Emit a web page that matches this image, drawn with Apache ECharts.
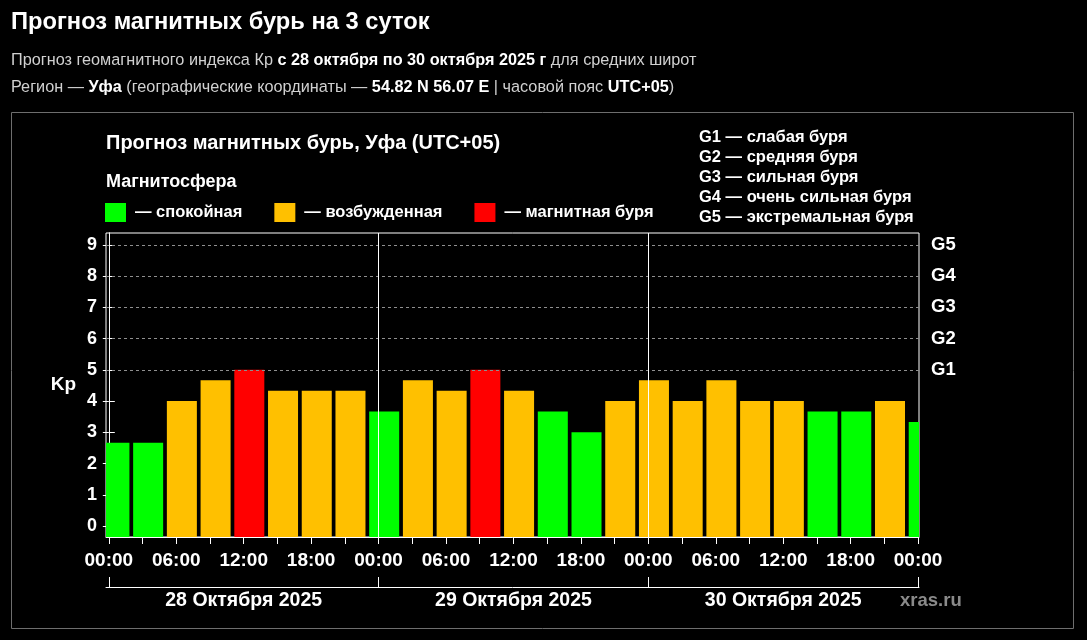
<!DOCTYPE html>
<html>
<head>
<meta charset="utf-8">
<script src="https://cdn.jsdelivr.net/npm/echarts@6/dist/echarts.min.js"></script>
<style>
html,body{margin:0;padding:0;background:#000;}
#chart{width:1087px;height:640px;}
</style>
</head>
<body>
<div id="chart"></div>
<script>
// ---- data ----
const barHours = [0.5, 3.5, 6.5, 9.5, 12.5, 15.5, 18.5, 21.5,
                  24.5, 27.5, 30.5, 33.5, 36.5, 39.5, 42.5, 45.5,
                  48.5, 51.5, 54.5, 57.5, 60.5, 63.5, 66.5, 69.5, 72.5];
const kpValues = [2.67, 2.67, 4.0, 4.67, 5.0, 4.33, 4.33, 4.33,
                  3.67, 4.67, 4.33, 5.0, 4.33, 3.67, 3.0, 4.0,
                  4.67, 4.0, 4.67, 4.0, 4.0, 3.67, 3.67, 4.0, 3.33];
const timeTickHours = [0, 6, 12, 18, 24, 30, 36, 42, 48, 54, 60, 66, 72];
const timeTickLabels = ['00:00', '06:00', '12:00', '18:00', '00:00', '06:00', '12:00', '18:00', '00:00', '06:00', '12:00', '18:00', '00:00'];
const minorTickHours = [0, 3, 6, 9, 12, 15, 18, 21, 24, 27, 30, 33, 36, 39, 42, 45, 48, 51, 54, 57, 60, 63, 66, 69, 72];
const dayBoundaryHours = [0, 24, 48, 72];
const dayLabelHours = [12, 36, 60];
const dayLabels = ['28 Октября 2025', '29 Октября 2025', '30 Октября 2025'];
const kpTicks = [0, 1, 2, 3, 4, 5, 6, 7, 8, 9];
const gLevels = [5, 6, 7, 8, 9];
const gLabels = ['G1', 'G2', 'G3', 'G4', 'G5'];
const gLegend = ['G1 — слабая буря', 'G2 — средняя буря', 'G3 — сильная буря', 'G4 — очень сильная буря', 'G5 — экстремальная буря'];
const stateNames = ['— спокойная', '— возбужденная', '— магнитная буря'];
const stateColors = ['#00ff00', '#ffc000', '#ff0000'];

// ---- layout/style constants ----
const FONT = 'Liberation Sans, Arial, sans-serif';
const Y_MIN = -0.35, Y_MAX = 9.38;
const X_MIN = -0.25, X_MAX = 72.08;
const BAR_SPAN = 2.67;

function stateOf(v) { return v >= 5 ? 2 : (v >= 4 ? 1 : 0); }

const seriesData = [[], [], []];
barHours.forEach((h, i) => { seriesData[stateOf(kpValues[i])].push([h, kpValues[i]]); });

function renderBar(params, api) {
  const x = api.value(0), v = api.value(1);
  const top = api.coord([x, v]);
  const base = api.coord([x, Y_MIN]);
  const w = api.size([BAR_SPAN, 0])[0];
  return {
    type: 'rect',
    shape: { x: top[0] - w / 2, y: top[1], width: w, height: base[1] - top[1] },
    style: { fill: api.visual('color') }
  };
}

const chart = echarts.init(document.getElementById('chart'), null, { renderer: 'canvas' });

const series = stateNames.map((name, k) => ({
  name: name,
  type: 'custom',
  renderItem: renderBar,
  clip: true,
  encode: { x: 0, y: 1 },
  itemStyle: { color: stateColors[k] },
  data: seriesData[k],
  z: 3
}));

series.push({
  name: 'lines',
  type: 'line',
  data: [],
  z: 1,
  silent: true,
  markLine: {
    silent: true,
    symbol: 'none',
    label: { show: false },
    animation: false,
    data: [
      ...gLevels.map(v => ({ yAxis: v, lineStyle: { color: '#8f8f8f', type: [3, 3], width: 1 } })),
      ...dayBoundaryHours.slice(1, 3).map(h => ({ xAxis: h, lineStyle: { color: '#ffffff', type: 'solid', width: 1 } }))
    ]
  }
});

const option = {
  backgroundColor: '#000',
  animation: false,
  textStyle: { fontFamily: FONT },
  legend: {
    data: stateNames.map(n => ({ name: n, icon: 'rect' })),
    left: 105, top: 203, padding: 0,
    itemWidth: 21, itemHeight: 19, itemGap: 32,
    textStyle: { color: '#fff', fontSize: 16.5, fontWeight: 'bold', fontFamily: FONT, padding: [0, 0, 0, 4] },
    selectedMode: false
  },
  grid: {
    left: 106, top: 233, right: 1087 - 919, bottom: 640 - 537,
    show: true, borderColor: '#fff', borderWidth: 1, backgroundColor: 'transparent'
  },
  xAxis: [{
    type: 'value', min: X_MIN, max: X_MAX,
    axisLine: { show: true, onZero: false, lineStyle: { color: '#fff' } },
    axisTick: { show: true, customValues: minorTickHours, length: 7, lineStyle: { color: '#fff' } },
    axisLabel: {
      customValues: timeTickHours, color: '#fff', fontSize: 19, fontWeight: 'bold', fontFamily: FONT, margin: 14,
      formatter: v => timeTickLabels[timeTickHours.indexOf(v)]
    },
    splitLine: { show: false }
  }, {
    type: 'value', min: X_MIN, max: X_MAX, position: 'bottom', offset: 50,
    axisLine: { show: true, onZero: false, lineStyle: { color: '#fff' } },
    axisTick: { show: true, inside: true, customValues: dayBoundaryHours, length: 10, lineStyle: { color: '#fff' } },
    axisLabel: {
      customValues: dayLabelHours, color: '#fff', fontSize: 19.5, fontWeight: 'bold', fontFamily: FONT, margin: 4,
      formatter: v => dayLabels[dayLabelHours.indexOf(v)]
    },
    splitLine: { show: false }
  }],
  yAxis: [{
    type: 'value', min: Y_MIN, max: Y_MAX, position: 'left',
    name: 'Kp', nameLocation: 'middle', nameRotate: 0, nameGap: 30,
    nameTextStyle: { color: '#fff', fontSize: 19, fontWeight: 'bold', fontFamily: FONT, align: 'right', verticalAlign: 'middle' },
    axisLine: { show: true, lineStyle: { color: '#fff' } },
    axisTick: { show: true, customValues: kpTicks, length: 6, lineStyle: { color: '#fff' } },
    axisLabel: { customValues: kpTicks, color: '#fff', fontSize: 18, fontWeight: 'bold', fontFamily: FONT, margin: 9 },
    splitLine: { show: false }
  }, {
    type: 'value', min: Y_MIN, max: Y_MAX, position: 'right',
    axisLine: { show: true, lineStyle: { color: '#fff' } },
    axisTick: { show: true, customValues: kpTicks, length: 6, lineStyle: { color: '#fff' } },
    axisLabel: {
      customValues: gLevels, color: '#fff', fontSize: 18.5, fontWeight: 'bold', fontFamily: FONT, margin: 12,
      formatter: v => gLabels[gLevels.indexOf(v)]
    },
    splitLine: { show: false }
  }],
  graphic: [
    { type: 'rect', z: -1, silent: true, shape: { x: 11.5, y: 112.5, width: 1062, height: 516 },
      style: { fill: 'none', stroke: '#6e6e6e', lineWidth: 1 } },
    { type: 'text', x: 11, y: 22, style: { text: 'Прогноз магнитных бурь на 3 суток', fill: '#fff',
      font: 'bold 23.7px ' + FONT, textVerticalAlign: 'middle' } },
    { type: 'text', x: 11, y: 61, style: {
      text: '{n|Прогноз геомагнитного индекса Кр }{b|с 28 октября по 30 октября 2025 г}{n| для средних широт}',
      textVerticalAlign: 'middle',
      rich: {
        n: { fill: '#d0d0d0', font: '16.25px ' + FONT },
        b: { fill: '#fff', font: 'bold 16.25px ' + FONT }
      } } },
    { type: 'text', x: 11, y: 88, style: {
      text: '{n|Регион — }{b|Уфа}{n| (географические координаты — }{b|54.82 N 56.07 E}{n| | часовой пояс }{b|UTC+05}{n|)}',
      textVerticalAlign: 'middle',
      rich: {
        n: { fill: '#d0d0d0', font: '16.25px ' + FONT },
        b: { fill: '#fff', font: 'bold 16.25px ' + FONT }
      } } },
    { type: 'text', x: 106, y: 143, style: { text: 'Прогноз магнитных бурь, Уфа (UTC+05)', fill: '#fff',
      font: 'bold 20px ' + FONT, textVerticalAlign: 'middle' } },
    { type: 'text', x: 106, y: 182, style: { text: 'Магнитосфера', fill: '#fff',
      font: 'bold 18px ' + FONT, textVerticalAlign: 'middle' } },
    ...gLegend.map((t, i) => ({ type: 'text', x: 699, y: 137 + i * 20, style: { text: t, fill: '#fff',
      font: 'bold 16.5px ' + FONT, textVerticalAlign: 'middle' } })),
    { type: 'text', x: 900, y: 601, style: { text: 'xras.ru', fill: '#8a8a8a',
      font: 'bold 18.5px ' + FONT, textVerticalAlign: 'middle' } }
  ],
  series: series
};

chart.setOption(option);
</script>
</body>
</html>
